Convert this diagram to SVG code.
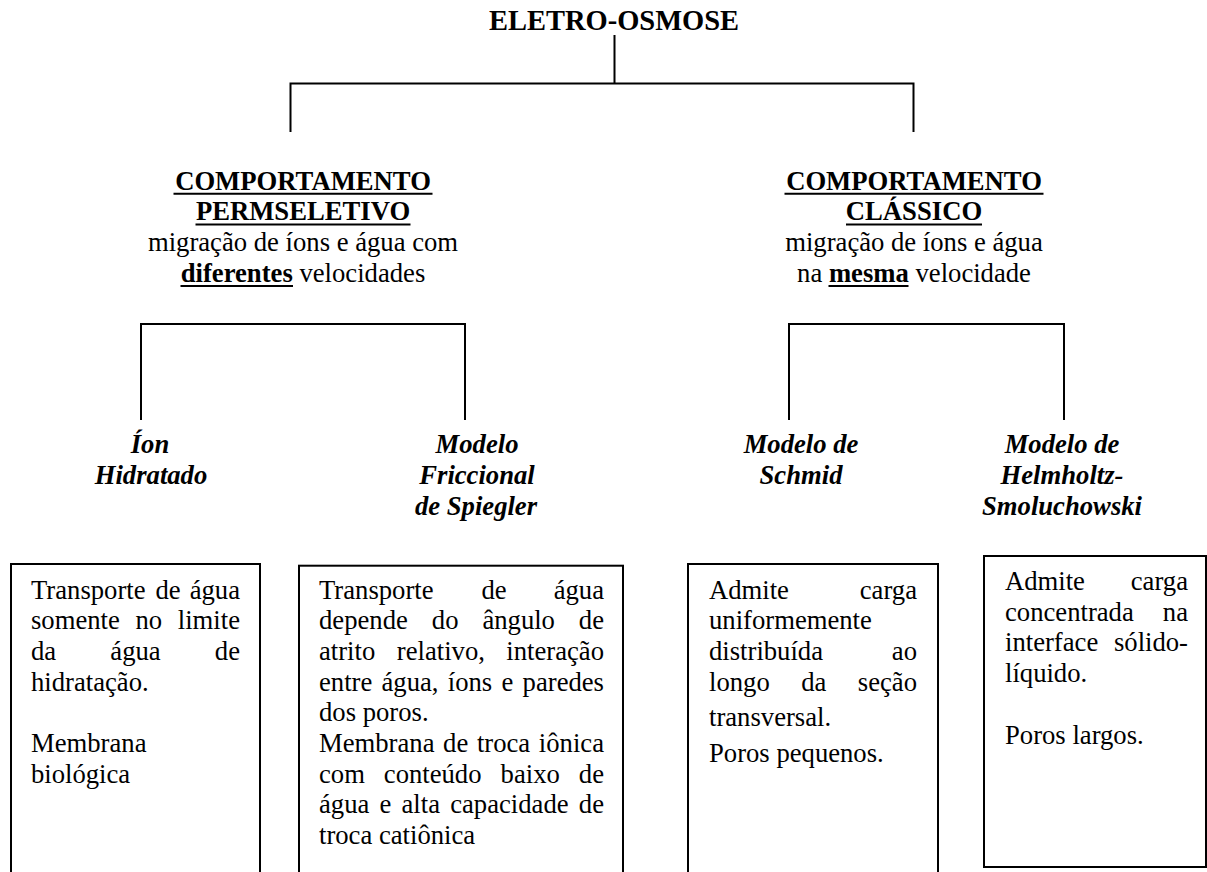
<svg xmlns="http://www.w3.org/2000/svg" width="1207" height="872" viewBox="0 0 1207 872">
<style>
.t{font-family:"Liberation Serif","Times New Roman",serif;font-size:26.67px;fill:#000}
.ti{font-size:28.5px;font-weight:bold}
.b{font-weight:bold}
.bi{font-weight:bold;font-style:italic}
.c{text-anchor:middle}
.e{text-anchor:end}
.ln{stroke:#000;stroke-width:2;fill:none}
.ul{stroke:#000;stroke-width:2;fill:none}
.box{stroke:#000;stroke-width:2;fill:none}
</style>
<rect width="1207" height="872" fill="#fff"/>
<g id="connectors">
<path class="ln" d="M614.5 35V83.5M290.5 132V83.5H913.5V132"/>
<path class="ln" d="M141 420V324H465V420"/>
<path class="ln" d="M789 420V324H1064V420"/>
</g>
<g id="title">
<text class="t ti c" x="614" y="30">ELETRO-OSMOSE</text>
</g>
<g id="permseletivo">
<text class="t b c" x="303" y="189.5">COMPORTAMENTO</text>
<text class="t b c" x="303" y="220.2">PERMSELETIVO</text>
<text class="t c" x="303" y="250.9">migração de íons e água com</text>
<text class="t c" x="303" y="281.6"><tspan class="b">diferentes</tspan> velocidades</text>
<path class="ul" d="M173.5 193.8H432.5M195.5 224.5H410.5M180.5 286H293"/>
</g>
<g id="classico">
<text class="t b c" x="914" y="189.5">COMPORTAMENTO</text>
<text class="t b c" x="914" y="220.2">CLÁSSICO</text>
<text class="t c" x="914" y="250.9">migração de íons e água</text>
<text class="t c" x="914" y="281.6">na <tspan class="b">mesma</tspan> velocidade</text>
<path class="ul" d="M784.5 193.8H1043.5M846 224.5H982M828.5 286H908.5"/>
</g>
<g id="ion-hidratado">
<text class="t bi c" x="150" y="453.3">Íon</text>
<text class="t bi c" x="151" y="484">Hidratado</text>
</g>
<g id="modelo-spiegler">
<text class="t bi c" x="477" y="453.3">Modelo</text>
<text class="t bi c" x="477" y="484">Friccional</text>
<text class="t bi c" x="476" y="514.7">de Spiegler</text>
</g>
<g id="modelo-schmid">
<text class="t bi c" x="801" y="453.3">Modelo de</text>
<text class="t bi c" x="801" y="484">Schmid</text>
</g>
<g id="modelo-helmholtz">
<text class="t bi c" x="1062" y="453.3">Modelo de</text>
<text class="t bi c" x="1062" y="484">Helmholtz-</text>
<text class="t bi c" x="1062" y="514.7">Smoluchowski</text>
</g>
<g id="box-ion">
<rect class="box" x="11" y="564" width="249" height="320"/>
<text class="t" x="31" y="598.5">Transporte</text><text class="t" x="155.5" y="598.5">de</text><text class="t e" x="240" y="598.5">água</text>
<text class="t" x="31" y="629.2">somente</text><text class="t" x="135.5" y="629.2">no</text><text class="t e" x="240" y="629.2">limite</text>
<text class="t" x="31" y="659.9">da</text><text class="t" x="110.3" y="659.9">água</text><text class="t e" x="240" y="659.9">de</text>
<text class="t" x="31" y="690.6">hidratação.</text>
<text class="t" x="31" y="752">Membrana</text>
<text class="t" x="31" y="782.7">biológica</text>
</g>
<g id="box-spiegler">
<rect class="box" x="299" y="565.7" width="324" height="320"/>
<text class="t" x="319" y="598.5">Transporte</text><text class="t" x="481.4" y="598.5">de</text><text class="t e" x="604" y="598.5">água</text>
<text class="t" x="319" y="629.2">depende</text><text class="t" x="431.8" y="629.2">do</text><text class="t" x="482.4" y="629.2">ângulo</text><text class="t e" x="604" y="629.2">de</text>
<text class="t" x="319" y="659.9">atrito</text><text class="t" x="396.8" y="659.9">relativo,</text><text class="t e" x="604" y="659.9">interação</text>
<text class="t" x="319" y="690.6">entre</text><text class="t" x="381.5" y="690.6">água,</text><text class="t" x="447.8" y="690.6">íons</text><text class="t" x="501.5" y="690.6">e</text><text class="t e" x="604" y="690.6">paredes</text>
<text class="t" x="319" y="721.3">dos poros.</text>
<text class="t" x="319" y="752">Membrana</text><text class="t" x="443.1" y="752">de</text><text class="t" x="476.9" y="752">troca</text><text class="t e" x="604" y="752">iônica</text>
<text class="t" x="319" y="782.7">com</text><text class="t" x="383.8" y="782.7">conteúdo</text><text class="t" x="500.6" y="782.7">baixo</text><text class="t e" x="604" y="782.7">de</text>
<text class="t" x="319" y="813.4">água</text><text class="t" x="379.5" y="813.4">e</text><text class="t" x="401.5" y="813.4">alta</text><text class="t" x="450.2" y="813.4">capacidade</text><text class="t e" x="604" y="813.4">de</text>
<text class="t" x="319" y="844.1">troca catiônica</text>
</g>
<g id="box-schmid">
<rect class="box" x="688" y="564" width="250" height="320"/>
<text class="t" x="709" y="598.5">Admite</text><text class="t e" x="917" y="598.5">carga</text>
<text class="t" x="709" y="629.2">uniformemente</text>
<text class="t" x="709" y="659.9">distribuída</text><text class="t e" x="917" y="659.9">ao</text>
<text class="t" x="709" y="690.6">longo</text><text class="t" x="801.2" y="690.6">da</text><text class="t e" x="917" y="690.6">seção</text>
<text class="t" x="709" y="726">transversal.</text>
<text class="t" x="709" y="762">Poros pequenos.</text>
</g>
<g id="box-helmholtz">
<rect class="box" x="984" y="556" width="222" height="311" stroke-width="2.5"/>
<text class="t" x="1005" y="590">Admite</text><text class="t e" x="1188" y="590">carga</text>
<text class="t" x="1005" y="620.7">concentrada</text><text class="t e" x="1188" y="620.7">na</text>
<text class="t" x="1005" y="651.4">interface</text><text class="t e" x="1188" y="651.4">sólido-</text>
<text class="t" x="1005" y="682.1">líquido.</text>
<text class="t" x="1005" y="743.5">Poros largos.</text>
</g>
</svg>
